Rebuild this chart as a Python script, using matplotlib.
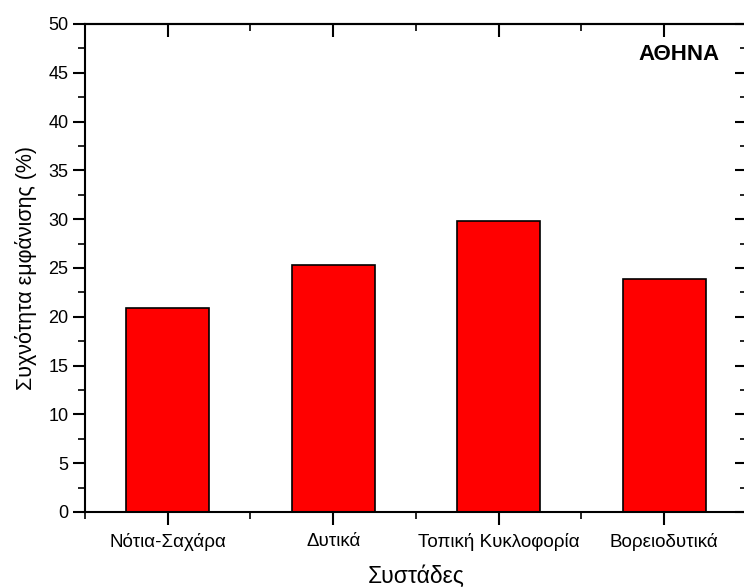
import matplotlib
matplotlib.use("Agg")
import matplotlib.pyplot as plt
from matplotlib.ticker import MultipleLocator, FixedLocator

plt.rcParams['font.family'] = ['Liberation Sans', 'DejaVu Sans']

categories = ["Νότια-Σαχάρα", "Δυτικά", "Τοπική Κυκλοφορία", "Βορειοδυτικά"]
values = [20.9, 25.35, 29.85, 23.9]
xlabel = "Συστάδες"
ylabel = "Συχνότητα εμφάνισης (%)"
title_text = "ΑΘΗΝΑ"

fig = plt.figure(figsize=(7.44, 5.87), dpi=100)
ax = fig.add_axes([85/744, 75/587, 662/744, 488/587])

pos = list(range(1, len(categories) + 1))
ax.bar(pos, values, width=0.5, color="#ff0000", edgecolor="black", linewidth=1.2)

ax.set_xlim(0.5, 4.5)
ax.set_ylim(0, 50)
ax.set_xticks(pos)
ax.set_xticklabels(categories, fontsize=13.5)
ax.xaxis.set_minor_locator(FixedLocator([0.5, 1.5, 2.5, 3.5, 4.5]))
ax.yaxis.set_major_locator(MultipleLocator(5))
ax.yaxis.set_minor_locator(MultipleLocator(2.5))
ax.tick_params(axis='y', labelsize=13)

for s in ax.spines.values():
    s.set_linewidth(1.5)

ax.tick_params(which='major', length=9, width=1.5)
ax.tick_params(which='minor', length=5, width=1.2)
ax.tick_params(axis='x', which='both', direction='out', top=False, pad=6)
ax.tick_params(axis='y', which='both', direction='out', right=False, pad=3)

# top and right ticks pointing inward
secx = ax.secondary_xaxis('top')
secx.set_xticks(pos)
secx.set_xticklabels([])
secx.xaxis.set_minor_locator(FixedLocator([0.5, 1.5, 2.5, 3.5, 4.5]))
secx.tick_params(which='major', direction='in', length=9, width=1.5)
secx.tick_params(which='minor', direction='in', length=5, width=1.2)
secx.spines['top'].set_linewidth(1.5)

secy = ax.secondary_yaxis('right')
secy.yaxis.set_major_locator(MultipleLocator(5))
secy.yaxis.set_minor_locator(MultipleLocator(2.5))
secy.set_yticklabels([])
secy.tick_params(which='major', direction='in', length=9, width=1.5)
secy.tick_params(which='minor', direction='in', length=5, width=1.2)
secy.spines['right'].set_linewidth(1.5)

ax.set_xlabel(xlabel, fontsize=16.5, labelpad=10)
ax.set_ylabel(ylabel, fontsize=15.5, labelpad=8)

ax.text(0.958, 0.937, title_text, transform=ax.transAxes, ha='right', va='center',
        fontsize=16, fontweight='bold')

fig.savefig("out.png", dpi=100)
